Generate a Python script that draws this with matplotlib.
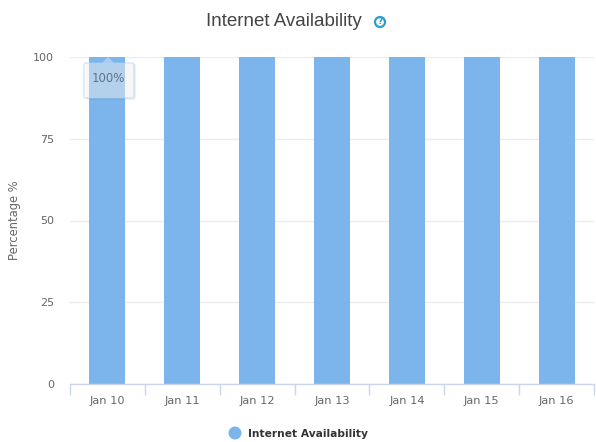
import numpy as np
import matplotlib
matplotlib.use('Agg')
import matplotlib.pyplot as plt
from matplotlib.patches import FancyBboxPatch, Polygon, Circle

days = ['Jan 10', 'Jan 11', 'Jan 12', 'Jan 13', 'Jan 14', 'Jan 15', 'Jan 16']
availability = [100, 100, 100, 100, 100, 100, 100]
y_ticks = [0, 25, 50, 75, 100]
series_name = 'Internet Availability'
tooltip_text = '100%'

W, H = 596, 442
BLUE = '#7cb5ec'
TEXT = '#666666'
AXIS = '#ccd6eb'
GRID = '#ececec'

plt.rcParams['font.family'] = ['DejaVu Sans']

fig = plt.figure(figsize=(W / 100, H / 100), dpi=100)
ax = fig.add_axes([70 / W, 1 - 384 / H, 524 / W, 327 / H])

x = np.arange(len(days))
ax.bar(x, availability, width=0.48, color=BLUE, zorder=2)

ax.set_xlim(-0.5, len(days) - 0.5)
ax.set_ylim(0, 100)
ax.set_yticks(y_ticks)
ax.set_xticks(x)
ax.set_xticklabels(days)
ax.grid(axis='y', color=GRID, linewidth=1, zorder=0)
ax.set_axisbelow(True)
ax.tick_params(axis='y', length=0, pad=11.5, labelsize=8, labelcolor=TEXT)
ax.tick_params(axis='x', length=0, pad=9, labelsize=8.2, labelcolor=TEXT)
ax.set_ylabel('Percentage %', fontsize=8.3, color=TEXT)
ax.yaxis.set_label_coords(-49 / 524, 0.5)

for side in ['top', 'right', 'left']:
    ax.spines[side].set_visible(False)
ax.spines['bottom'].set_color(AXIS)
ax.spines['bottom'].set_linewidth(1)

# tick marks sit on the category edges, not the centres
ax.set_xticks(np.arange(len(days) + 1) - 0.5, minor=True)
ax.tick_params(axis='x', which='minor', length=8, color=AXIS, width=1)

# title and help icon
fig.text(284 / W, 1 - 21 / H, 'Internet Availability', ha='center', va='center',
         fontsize=13.5, color='#444444', family=['Liberation Sans', 'DejaVu Sans'])
icon = Circle((380, H - 22), 5, transform=None, facecolor='white', edgecolor='#2f9bd0', linewidth=1.6, zorder=6)
fig.add_artist(icon)
fig.text(380 / W, 1 - 22 / H, '?', ha='center', va='center', fontsize=6.5, color='#2f9bd0', fontweight='bold', zorder=8)

# tooltip
shadow = FancyBboxPatch((86, H - 100), 50, 36, boxstyle='round,pad=0,rounding_size=2', transform=None,
                        facecolor='#000000', edgecolor='none', alpha=0.05, zorder=4)
box = FancyBboxPatch((84, H - 98), 50, 35, boxstyle='round,pad=0,rounding_size=2', transform=None,
                     facecolor='white', edgecolor='#a9cdf2', linewidth=1.2, alpha=0.45, zorder=5)
tip = Polygon([(102, H - 63), (108, H - 57), (114, H - 63)], closed=True, transform=None,
              facecolor='#a9cdf2', edgecolor='none', zorder=5)
fig.add_artist(shadow)
fig.add_artist(box)
fig.add_artist(tip)
fig.text(108 / W, 1 - 79 / H, tooltip_text, ha='center', va='center', fontsize=8.5, color='#5f7488', zorder=7)

# legend
fig.add_artist(Circle((235, H - 433), 6.5, transform=None, facecolor=BLUE, edgecolor='none'))
fig.text(248 / W, 1 - 434 / H, series_name, ha='left', va='center', fontsize=7.7, color='#333333', fontweight='bold')

fig.savefig('out.png', dpi=100)
